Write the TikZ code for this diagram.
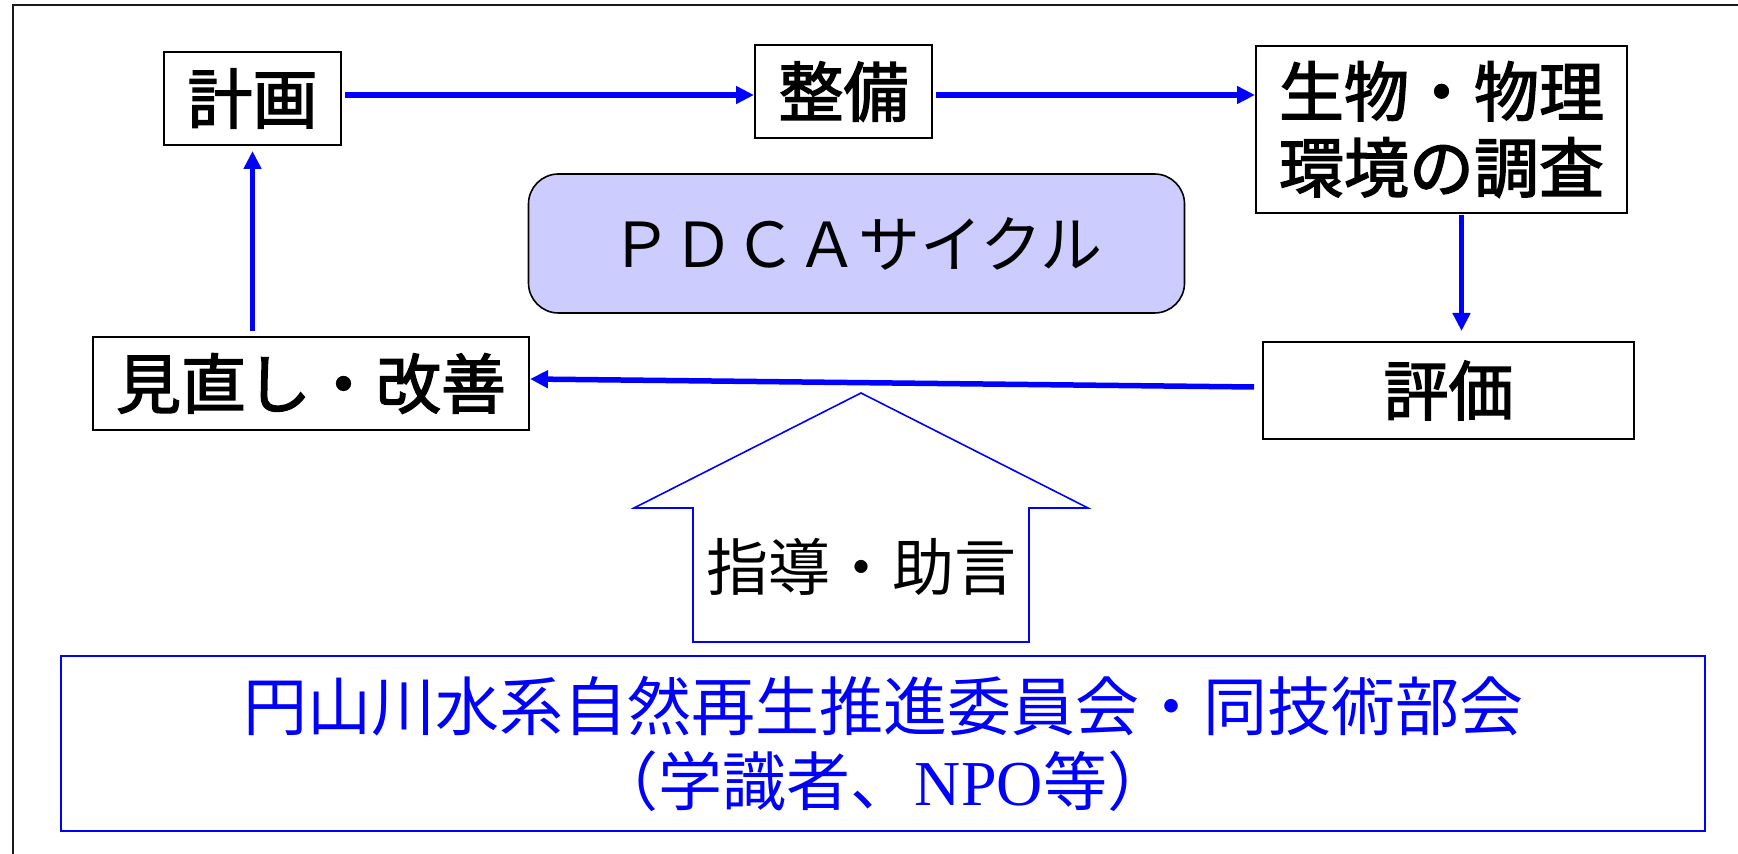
\documentclass[tikz,border=0pt]{standalone}
\usepackage{fontspec}
\setmainfont{Noto Sans CJK JP}
\newfontfamily\jpmed[FakeBold=2.2]{Noto Sans CJK JP}
\newfontfamily\tms{Liberation Serif}
\usetikzlibrary{arrows.meta}
\definecolor{pdcafill}{RGB}{204,204,255}
\definecolor{pureblue}{RGB}{0,0,255}
\tikzset{
  box/.style={draw=black, line width=1pt, fill=white, inner sep=0pt, align=center,
    font=\fontsize{32.5pt}{38pt}\selectfont\jpmed},
  arr/.style={draw=pureblue, line width=2.75pt, -{Triangle[length=9pt,width=8.5pt]}},
  bigarrow/.style={draw=pureblue, line width=0.8pt, fill=white},
}
\begin{document}
\begin{tikzpicture}[x=0.5pt,y=-0.5pt]
\useasboundingbox (0,0) rectangle (1738,854);
% outer frame (clipped at right and bottom)
\draw[line width=1pt, black!90] (13,860) -- (13,5) -- (1745,5);

\node[box, minimum width=88.5pt, minimum height=46.5pt] (keikaku) at (252.5,98.5) {計画};
\node[box, minimum width=88.5pt, minimum height=46.5pt] (seibi) at (843.5,91.5) {整備};
\node[box, minimum width=185.5pt, minimum height=83.5pt] (seibutsu) at (1441.5,129.5) {生物・物理\\環境の調査};
\node[box, minimum width=185.5pt, minimum height=48.5pt] (hyouka) at (1448.5,390.5) {評価};
\node[box, minimum width=218pt, minimum height=46.5pt] (minaoshi) at (311,383.5) {見直し・改善};

\node[draw=black, line width=0.8pt, fill=pdcafill, rounded corners=15pt, inner sep=0pt,
  minimum width=328pt, minimum height=69.5pt, font=\fontsize{31pt}{38pt}\selectfont] (pdca) at (856.5,243.5) {ＰＤＣＡサイクル};

% arrows of the cycle
\draw[arr] ([shift={(3,-3.5)}]keikaku.east) -- ([shift={(0,3.5)}]seibi.west);
\draw[arr] ([shift={(3,3.5)}]seibi.east) -- ([shift={(0,-34.5)}]seibutsu.west);
\draw[arr] ([shift={(20,1)}]seibutsu.south) -- ([shift={(13,-10)}]hyouka.north);
\draw[arr] ([shift={(-8,-3.5)}]hyouka.west) -- ([shift={(0,-4.5)}]minaoshi.east);
\draw[arr] ([shift={(-58.5,-5)}]minaoshi.north) -- ([shift={(0,5)}]keikaku.south);

% big upward arrow
\draw[bigarrow] (861,393) -- (1088,508) -- (1029,508) -- (1029,642) -- (693,642) -- (693,508) -- (634,508) -- cycle;
\node[font=\fontsize{31pt}{38pt}\selectfont, inner sep=0pt] (shidou) at (861,567) {指導・助言};

% committee box
\node[draw=pureblue, line width=1.1pt, text=pureblue, inner sep=0pt, align=center,
  minimum width=822pt, minimum height=87.5pt, font=\fontsize{32pt}{37.5pt}\selectfont] (iinkai) at (883,743.5)
  {円山川水系自然再生推進委員会・同技術部会\\（学識者、{\tms NPO}等）};
\end{tikzpicture}
\end{document}
